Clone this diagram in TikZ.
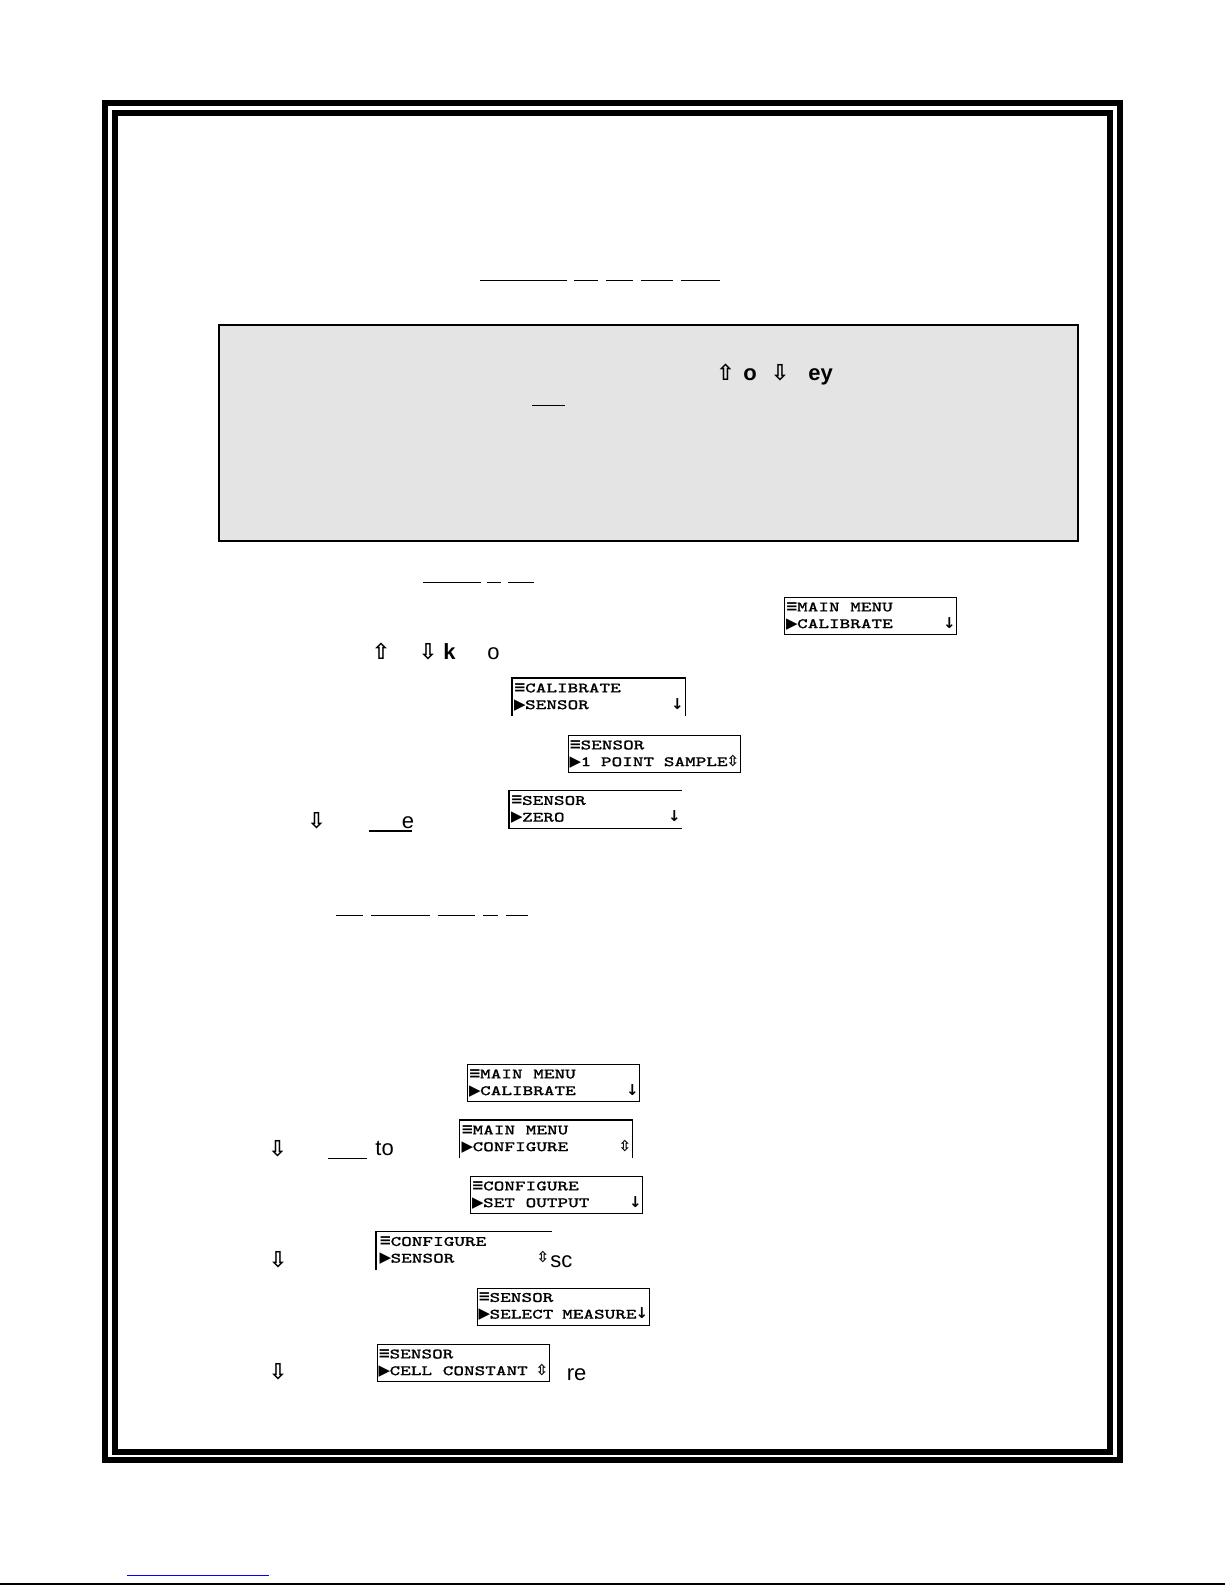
\documentclass[tikz,border=0pt]{standalone}
\usepackage{fontspec}
\setmainfont{Liberation Sans}
\newfontfamily\lcdfont{Latin Modern Mono}[FakeStretch=1.39,FakeBold=0.9]
\newfontfamily\symfont{DejaVu Sans}
\definecolor{panelgray}{RGB}{228,228,228}
\definecolor{linkblue}{RGB}{0,0,255}
\tikzset{
  lcd/.style={anchor=north west,inner xsep=1pt,inner ysep=0pt,line width=0.6pt,font=\lcdfont\fontsize{7.2}{8}\selectfont},
  txt/.style={anchor=base west,inner sep=0pt,font=\fontsize{11}{13}\selectfont},
  bold/.style={anchor=base west,inner sep=0pt,font=\fontsize{11}{13}\selectfont\bfseries},
  key/.style={anchor=base,inner sep=0pt,font=\symfont\bfseries\fontsize{11}{12}\selectfont},
  uline/.style={line width=0.6pt},
  frame/.style={line width=3pt},
}
\newcommand\lcdsym[1]{\makebox[5.25pt]{\symfont\bfseries\fontsize{7.5}{7.5}\selectfont#1}}
\newcommand\lcdrows[4]{\vbox{\offinterlineskip
  \hbox to 84pt{\vrule height 6.9pt width 0pt\lcdsym{≡}#1\hfill#2}
  \hbox to 84pt{\vrule height 8.3pt depth 3.3pt width 0pt\lcdsym{▶}#3\hfill#4}}}
\begin{document}
\begin{tikzpicture}[x=0.5pt,y=-0.5pt]
\useasboundingbox (0,0) rectangle (1225,1585);
\draw[frame] (105,103) rectangle (1120,1460);
\draw[frame,line width=2.85pt] (115,113) rectangle (1110,1452);
\draw[uline] (480,280.3) -- (566.7,280.3);
\draw[uline] (574,280.3) -- (597.7,280.3);
\draw[uline] (606,280.3) -- (632.7,280.3);
\draw[uline] (641,280.3) -- (672.7,280.3);
\draw[uline] (681,280.3) -- (720,280.3);
\draw[fill=panelgray,line width=0.9pt] (219.2,325.2) rectangle (1077.7,541);
\node[key] (upgray) at (725.5,380) {⇧};
\node[bold] (orgray) at (743,380) {o};
\node[key] (downgray) at (780,380) {⇩};
\node[bold] (keygray) at (808,380) {ey};
\draw[uline] (532,405.7) -- (565,405.7);
\draw[uline] (423,582.5) -- (481,582.5);
\draw[uline] (487,582.5) -- (501,582.5);
\draw[uline] (508,582.5) -- (534,582.5);
\node[lcd,draw] (mainA) at (784,597) {\lcdrows{MAIN MENU}{}{CALIBRATE}{\lcdsym{↓}}};
\node[key] (upone) at (381,659.5) {⇧};
\node[key] (downone) at (428,659.5) {⇩};
\node[bold] (kone) at (443,659.5) {k};
\node[txt] (oone) at (487,659.5) {o};
\node[lcd] (calB) at (512,678) {\lcdrows{CALIBRATE}{}{SENSOR}{\lcdsym{↓}}};
\draw[line width=0.6pt] (calB.south west) -- (calB.north west) -- (calB.north east) -- (calB.south east);
\node[lcd,draw] (sensC) at (567.5,735) {\lcdrows{SENSOR}{}{1 POINT SAMPLE}{\lcdsym{⇳}}};
\node[lcd] (sensD) at (509,790.5) {\lcdrows{SENSOR}{}{ZERO}{\lcdsym{↓}}};
\draw[line width=0.6pt] (sensD.north east) -- (sensD.north west) -- (sensD.south west) -- (sensD.south east);
\node[key] (downtwo) at (316.7,828) {⇩};
\node[txt] (etwo) at (401.5,828) {e};
\draw[uline] (369,831) -- (412.3,831);
\draw[uline] (336,915.7) -- (363.3,915.7);
\draw[uline] (371,915.7) -- (430,915.7);
\draw[uline] (437.7,915.7) -- (475,915.7);
\draw[uline] (483.3,915.7) -- (498.3,915.7);
\draw[uline] (506,915.7) -- (527.7,915.7);
\node[lcd,draw] (mainE) at (467,1064) {\lcdrows{MAIN MENU}{}{CALIBRATE}{\lcdsym{↓}}};
\node[lcd] (mainF) at (459.5,1120) {\lcdrows{MAIN MENU}{}{CONFIGURE}{\lcdsym{⇳}}};
\draw[line width=0.6pt] (mainF.south west) -- (mainF.north west) -- (mainF.north east) -- (mainF.south east);
\node[key] (downthree) at (277.5,1156) {⇩};
\draw[uline] (328,1158.5) -- (367.3,1158.5);
\node[txt] (tothree) at (375,1155) {to};
\node[lcd,draw] (confG) at (470,1176) {\lcdrows{CONFIGURE}{}{SET OUTPUT}{\lcdsym{↓}}};
\node[lcd,minimum width=87.5pt] (confH) at (376,1231.5) {\lcdrows{CONFIGURE}{}{SENSOR}{\lcdsym{⇳}}};
\draw[line width=0.6pt] (confH.north east) -- (confH.north west) -- (confH.south west);
\node[key] (downfour) at (278,1267) {⇩};
\node[txt] (scfour) at (550,1267.5) {sc};
\node[lcd,draw] (sensI) at (476.5,1287.5) {\lcdrows{SENSOR}{}{SELECT MEASURE}{\lcdsym{↓}}};
\node[lcd,draw] (sensJ) at (376.5,1344) {\lcdrows{SENSOR}{}{CELL CONSTANT}{\lcdsym{⇳}}};
\node[key] (downfive) at (278,1379.5) {⇩};
\node[txt] (refive) at (566.5,1380) {re};
\draw[linkblue,line width=0.5pt] (127,1575) -- (269,1575);
\draw[line width=1pt] (0,1583.5) -- (1225,1583.5);
\end{tikzpicture}
\end{document}
